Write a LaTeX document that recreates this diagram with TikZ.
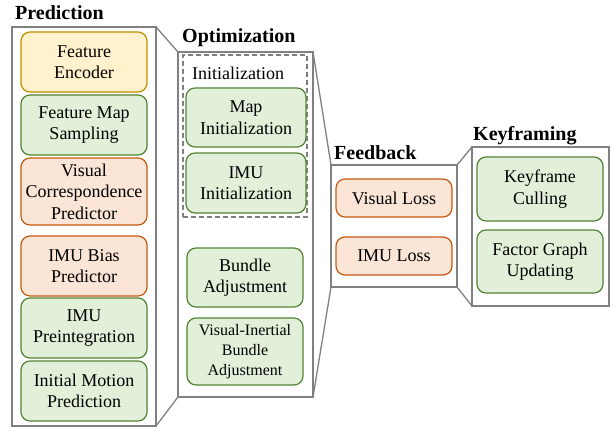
\documentclass[tikz,border=0pt]{standalone}
\usepackage{fontspec}
\setmainfont{Liberation Serif}
\definecolor{yelfill}{HTML}{FFF2CC}
\definecolor{yeldraw}{HTML}{BF9000}
\definecolor{grnfill}{HTML}{E2F0D9}
\definecolor{grndraw}{HTML}{548235}
\definecolor{orgfill}{HTML}{FBE5D6}
\definecolor{orgdraw}{HTML}{C55A11}
\definecolor{panelgray}{HTML}{808080}
\begin{document}
\begin{tikzpicture}[x=1pt, y=-1pt,
    panel/.style={draw=panelgray, line width=1.3pt, outer sep=0pt, inner sep=0pt},
    title/.style={anchor=base west, inner sep=0pt, font=\fontsize{20}{22}\selectfont\bfseries},
    block/.style={rounded corners=9pt, line width=1.2pt, align=center, inner sep=1pt, outer sep=0pt,
      minimum width=126pt, minimum height=60pt, font=\fontsize{18}{21.5}\selectfont},
    yelbox/.style={block, draw=yeldraw, fill=yelfill},
    grnbox/.style={block, draw=grndraw, fill=grnfill},
    orgbox/.style={block, draw=orgdraw, fill=orgfill}]
  \useasboundingbox (0, 0) rectangle (616, 428);
  \node [panel, minimum width=144pt, minimum height=399pt] (pred) at (84, 226.5) {};
  \node [panel, minimum width=135pt, minimum height=345pt] (opt) at (245.5, 224.5) {};
  \node [panel, minimum width=126pt, minimum height=122pt] (fb) at (394, 226) {};
  \node [panel, minimum width=137pt, minimum height=159pt] (kf) at (540.5, 226.5) {};
  \draw [panelgray, line width=1.3pt] (pred.north east) -- (opt.north west);
  \draw [panelgray, line width=1.3pt] (pred.south east) -- (opt.south west);
  \draw [panelgray, line width=1.3pt] (opt.north east) -- (fb.north west);
  \draw [panelgray, line width=1.3pt] (opt.south east) -- (fb.south west);
  \draw [panelgray, line width=1.3pt] (fb.north east) -- (kf.north west);
  \draw [panelgray, line width=1.3pt] (fb.south east) -- (kf.south west);
  \node [title] (predtitle) at (15, 19.5) {Prediction};
  \node [title] (opttitle) at (182, 42.5) {Optimization};
  \node [title] (fbtitle) at (334, 159) {Feedback};
  \node [title] (kftitle) at (473, 140) {Keyframing};
  \node [yelbox] (encoder) at (84, 62) {Feature\\Encoder};
  \node [grnbox] (sampling) at (84, 125) {Feature Map\\Sampling};
  \node [orgbox, minimum height=67pt] (corr) at (84, 191.5) {Visual\\Correspondence\\Predictor};
  \node [orgbox] (bias) at (84, 266) {IMU Bias\\Predictor};
  \node [grnbox] (preint) at (84, 328) {IMU\\Preintegration};
  \node [grnbox] (motion) at (84, 391) {Initial Motion\\Prediction};
  \node [draw=panelgray, line width=1.2pt, dash pattern=on 5pt off 3pt, minimum width=124pt,
    minimum height=162pt, inner sep=0pt] (init) at (245, 136) {};
  \node [anchor=west, inner sep=0pt, font=\fontsize{18}{21}\selectfont] (initlabel) at (192, 73) {Initialization};
  \node [grnbox, minimum width=120pt, minimum height=59pt] (mapinit) at (246, 117.5) {Map\\Initialization};
  \node [grnbox, minimum width=120pt] (imuinit) at (246, 183) {IMU\\Initialization};
  \node [grnbox, minimum width=116pt, minimum height=59pt] (ba) at (245, 277.5) {Bundle\\Adjustment};
  \node [grnbox, minimum width=116pt, minimum height=67pt, font=\fontsize{16}{20}\selectfont] (viba) at (245, 351.5) {Visual-Inertial\\Bundle\\Adjustment};
  \node [orgbox, minimum width=116pt, minimum height=38pt] (visloss) at (394, 198) {Visual Loss};
  \node [orgbox, minimum width=116pt, minimum height=38pt] (imuloss) at (394, 256) {IMU Loss};
  \node [grnbox, minimum height=64pt] (culling) at (540, 189) {Keyframe\\Culling};
  \node [grnbox, minimum height=63pt] (factor) at (540, 261.5) {Factor Graph\\Updating};
\end{tikzpicture}
\end{document}
